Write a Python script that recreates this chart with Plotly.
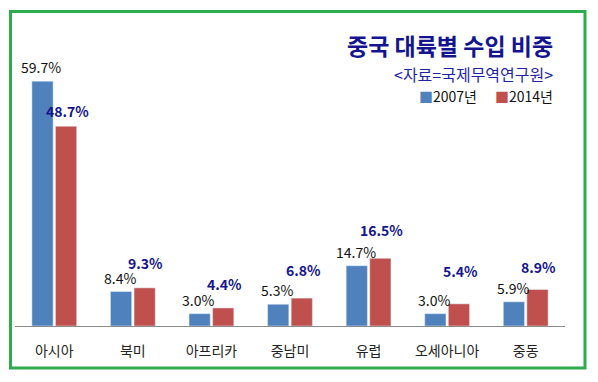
import plotly.graph_objects as go

categories = ["아시아", "북미", "아프리카", "중남미", "유럽", "오세아니아", "중동"]
values_2007 = [59.7, 8.4, 3.0, 5.3, 14.7, 3.0, 5.9]
values_2014 = [48.7, 9.3, 4.4, 6.8, 16.5, 5.4, 8.9]
series_names = ["2007년", "2014년"]
title_text = "중국 대륙별 수입 비중"
source_text = "<자료=국제무역연구원>"

# label lift above bar top (px), style only
label_lift_2007 = 14
label_lift_2014 = [15, 25, 24, 28, 28, 33, 23]

BLUE = "#4F81BD"
RED = "#C0504D"
NAVY = "#14148f"
FONT = "Noto Sans CJK KR"

W, H = 598, 382
ML, MR, MT, MB = 15, 33, 43, 56
pw = W - ML - MR
ph = H - MT - MB


def px_x(p):
    return (p - ML) / pw


def px_y(p):
    return (H - MB - p) / ph


fig = go.Figure()
fig.add_trace(go.Bar(x=categories, y=values_2007, name=series_names[0],
                     marker_color=BLUE, showlegend=False))
fig.add_trace(go.Bar(x=categories, y=values_2014, name=series_names[1],
                     marker_color=RED, showlegend=False))

annotations = []
for c, v in zip(categories, values_2007):
    annotations.append(dict(x=c, y=v, xref="x", yref="y", text=f"{v:.1f}%",
                            showarrow=False, xshift=-13, yshift=label_lift_2007,
                            yanchor="middle",
                            font=dict(family=FONT, size=14, color="#111111")))
for c, v, lift in zip(categories, values_2014, label_lift_2014):
    annotations.append(dict(x=c, y=v, xref="x", yref="y", text=f"<b>{v:.1f}%</b>",
                            showarrow=False, xshift=13, yshift=lift,
                            yanchor="middle",
                            font=dict(family=FONT, size=14, color=NAVY)))

annotations.append(dict(x=px_x(555), y=px_y(45), xref="paper", yref="paper",
                        text=f"<b>{title_text}</b>", showarrow=False,
                        xanchor="right", yanchor="middle",
                        font=dict(family=FONT, size=23, color=NAVY)))
annotations.append(dict(x=px_x(555), y=px_y(74), xref="paper", yref="paper",
                        text=source_text, showarrow=False,
                        xanchor="right", yanchor="middle",
                        font=dict(family=FONT, size=16, color="#1f1fa8")))
for name, col, xr in zip(series_names, [BLUE, RED], [479, 555]):
    annotations.append(dict(x=px_x(xr), y=px_y(96), xref="paper", yref="paper",
                            text=f"<span style='color:{col}'>■</span>{name}",
                            showarrow=False, xanchor="right", yanchor="middle",
                            font=dict(family=FONT, size=14, color="#111111")))

shapes = [dict(type="rect", xref="paper", yref="paper",
               x0=px_x(10.5), x1=px_x(585), y0=px_y(368), y1=px_y(11.5),
               line=dict(color="#2eaa4f", width=3), fillcolor="rgba(0,0,0,0)",
               layer="above")]

fig.update_layout(
    width=W, height=H,
    margin=dict(l=ML, r=MR, t=MT, b=MB),
    paper_bgcolor="white", plot_bgcolor="white",
    barmode="group", bargap=0.4, bargroupgap=0.1,
    annotations=annotations, shapes=shapes,
    font=dict(family=FONT),
)
fig.update_xaxes(showline=True, linecolor="#8c8c8c", linewidth=1,
                 ticks="", ticklabelstandoff=12,
                 tickfont=dict(family=FONT, size=14, color="#222222"))
fig.update_yaxes(range=[0, 69], visible=False, showgrid=False, zeroline=False)

fig.write_html("out.html", config={"displayModeBar": False},
               post_script="document.body.style.margin='0';document.body.style.padding='0';")
